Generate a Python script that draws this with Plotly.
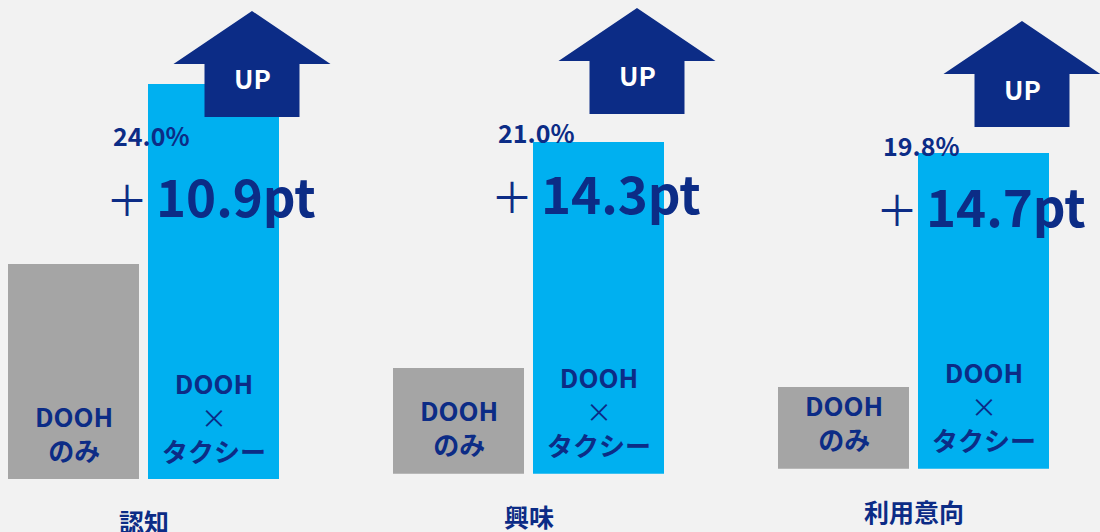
import plotly.graph_objects as go

# ---------------- data ----------------
categories = ["認知", "興味", "利用意向"]
dooh_only = [13.1, 6.7, 5.1]          # DOOHのみ (%)
dooh_taxi = [24.0, 21.0, 19.8]        # DOOH×タクシー (%)
series_labels = ["<b>DOOH</b><br><b>のみ</b>", "<b>DOOH</b><br>×<br><b>タクシー</b>"]

# ---------------- layout constants (pixels) ----------------
W, H = 1100, 532
BG = "#f2f2f2"
GRAY = "#a5a5a5"
BLUE = "#00b0f0"
NAVY = "#0c2c86"
FONT = "Noto Sans CJK JP"

GROUP_STEP_PX = 385
FIRST_CENTER_PX = 73.5
BAR_STEP_PX = 140
BAR_W_PX = 131
BASELINE_PX = [479.3, 473.7, 468.7]
Y_TOP = [29.1, 30.0, 29.4]
ARROW_TIP_PX = [11, 8, 21]
PCT_Y_PX = [135, 132, 145]

GROUP_STEP = GROUP_STEP_PX / BAR_STEP_PX
X_LO = -FIRST_CENTER_PX / BAR_STEP_PX
X_HI = X_LO + W / BAR_STEP_PX


def px(x):
    return x / W


def py(y):
    return 1 - y / H


fig = go.Figure()
annotations = []
shapes = []

for g, cat in enumerate(categories):
    yname = "y" if g == 0 else f"y{g + 1}"
    x_gray = g * GROUP_STEP
    x_blue = x_gray + 1
    fig.add_trace(go.Bar(
        x=[x_gray, x_blue],
        y=[dooh_only[g], dooh_taxi[g]],
        width=BAR_W_PX / BAR_STEP_PX,
        marker=dict(color=[GRAY, BLUE], line=dict(width=0)),
        xaxis="x", yaxis=yname,
        hoverinfo="skip", showlegend=False,
    ))

    # bar inner labels (anchored on baseline)
    annotations.append(dict(
        x=x_gray, y=0, xref="x", yref=yname, yshift=47,
        text=series_labels[0], showarrow=False,
        font=dict(family=FONT, size=26, color=NAVY),
        xanchor="center", yanchor="middle"))
    annotations.append(dict(
        x=x_blue, y=0, xref="x", yref=yname, yshift=63,
        text=series_labels[1], showarrow=False,
        font=dict(family=FONT, size=26, color=NAVY),
        xanchor="center", yanchor="middle"))

    # category label under the group
    annotations.append(dict(
        x=x_gray + 0.5, y=0, xref="x", yref=yname, yshift=-42,
        text=f"<b>{cat}</b>", showarrow=False,
        font=dict(family=FONT, size=25, color=NAVY),
        xanchor="center", yanchor="middle"))

    ox = g * GROUP_STEP_PX
    # percentage label
    annotations.append(dict(
        x=px(150.5 + ox), y=py(PCT_Y_PX[g]), xref="paper", yref="paper",
        text=f"<b>{dooh_taxi[g]:.1f}%</b>", showarrow=False,
        font=dict(family=FONT, size=25, color=NAVY),
        xanchor="center", yanchor="middle"))

    # difference label
    diff = dooh_taxi[g] - dooh_only[g]
    dy = PCT_Y_PX[g] + 60
    annotations.append(dict(
        x=px(127 + ox), y=py(dy + 2), xref="paper", yref="paper",
        text="＋", showarrow=False,
        font=dict(family=FONT, size=42, color=NAVY),
        xanchor="center", yanchor="middle"))
    annotations.append(dict(
        x=px(154 + ox), y=py(dy), xref="paper", yref="paper",
        text=f"<b>{diff:.1f}pt</b>", showarrow=False,
        font=dict(family=FONT, size=51, color=NAVY),
        xanchor="left", yanchor="middle"))

    # UP arrow
    cx = 252 + ox
    ty = ARROW_TIP_PX[g]
    pts = [(cx, ty), (cx + 78.5, ty + 53), (cx + 47.5, ty + 53), (cx + 47.5, ty + 106),
           (cx - 47.5, ty + 106), (cx - 47.5, ty + 53), (cx - 78.5, ty + 53)]
    path = "M " + " L ".join(f"{px(a):.5f},{py(b):.5f}" for a, b in pts) + " Z"
    shapes.append(dict(type="path", path=path, xref="paper", yref="paper",
                       fillcolor=NAVY, line=dict(width=0), layer="above"))
    annotations.append(dict(
        x=px(cx), y=py(ty + 67), xref="paper", yref="paper",
        text="<b>UP</b>", showarrow=False,
        font=dict(family=FONT, size=26, color="white"),
        xanchor="center", yanchor="middle"))

layout = dict(
    width=W, height=H,
    margin=dict(l=0, r=0, t=0, b=0),
    paper_bgcolor=BG, plot_bgcolor="rgba(0,0,0,0)",
    xaxis=dict(range=[X_LO, X_HI], domain=[0, 1], visible=False, fixedrange=True),
    annotations=annotations, shapes=shapes,
    bargap=0, showlegend=False,
    font=dict(family=FONT),
)
for g in range(len(categories)):
    key = "yaxis" if g == 0 else f"yaxis{g + 1}"
    layout[key] = dict(range=[0, Y_TOP[g]], domain=[1 - BASELINE_PX[g] / H, 1],
                       anchor="x", visible=False, fixedrange=True)

fig.update_layout(**layout)
fig.write_html(
    "out.html",
    config={"displayModeBar": False},
    post_script="document.body.style.margin='0';document.body.style.background='#f2f2f2';",
)
